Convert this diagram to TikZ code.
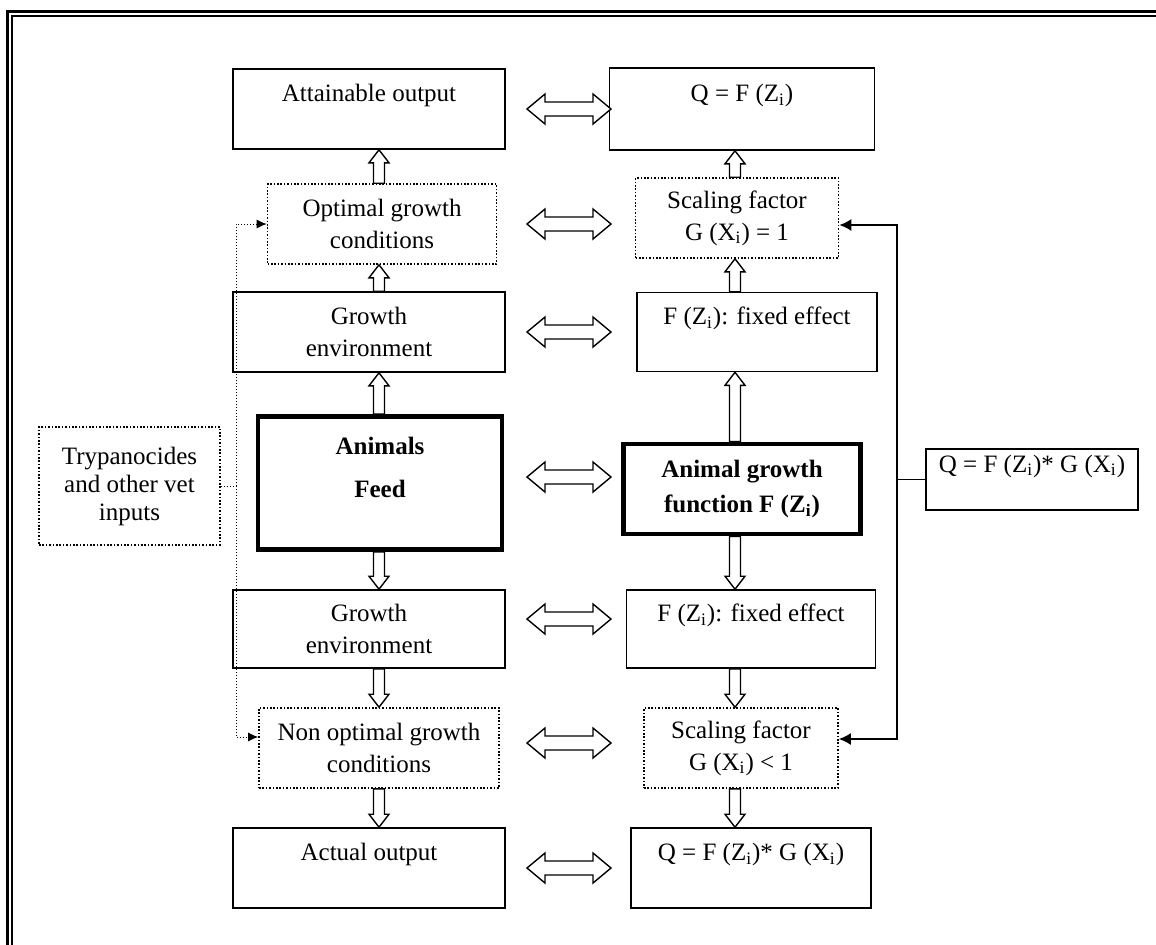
\documentclass[tikz,border=0pt]{standalone}
\usepackage{fontspec}
\setmainfont{Liberation Serif}
\usetikzlibrary{calc,arrows.meta}

\tikzset{>=latex,
  box/.style={draw,line width=0.8pt,align=center,inner sep=0pt},
  dotbox/.style={box,dash pattern=on 0.8pt off 0.9pt},
  boldbox/.style={box,line width=2.4pt},
  hollow/.style={draw,line width=0.7pt,fill=white,line join=miter},
  feed/.style={line width=0.9pt},
  vet/.style={line width=0.5pt,dash pattern=on 0.5pt off 1pt},
}

% hollow block arrow along column #1, from #2 to #3
\newcommand\varr[3]{%
  \draw[hollow] let \p1=(#1 |- #2), \p2=(#1 |- #3), \n1={(\y2-\y1)/abs(\y2-\y1)} in
    (\x1-2.75pt,\y1) -- (\x1-2.75pt,{\y2-(\n1)*6.5pt}) -- (\x1-5pt,{\y2-(\n1)*6.5pt}) -- (\x2,\y2)
    -- (\x1+5pt,{\y2-(\n1)*6.5pt}) -- (\x1+2.75pt,{\y2-(\n1)*6.5pt}) -- (\x1+2.75pt,\y1) -- cycle;}
% hollow double arrow between columns dl and dr, at the height of #1
\newcommand\dblarr[1]{%
  \draw[hollow] let \p3=(#1), \p1=(dl), \p2=(dr) in
    (\x1,\y3) -- (\x1+9pt,\y3+7.5pt) -- (\x1+9pt,\y3+3.5pt) -- (\x2-9pt,\y3+3.5pt) -- (\x2-9pt,\y3+7.5pt)
    -- (\x2,\y3) -- (\x2-9pt,\y3-7.5pt) -- (\x2-9pt,\y3-3.5pt) -- (\x1+9pt,\y3-3.5pt) -- (\x1+9pt,\y3-7.5pt) -- cycle;}

\begin{document}
\begin{tikzpicture}[x=0.5pt,y=-0.5pt,font=\fontsize{12.5}{16}\selectfont]
  \path[use as bounding box] (0,0) rectangle (1156,944);
  \clip (0,0) rectangle (1156,944);
  \draw[line width=1.5pt] (7.5,11.5) rectangle (1200,1000); % outer frame
  \draw[line width=0.8pt] (12,16) rectangle (1200,1000); % inner frame

  % columns
  \coordinate (lx) at (379,0);
  \coordinate (rx) at (735,0);
  \coordinate (dl) at (527,0);
  \coordinate (dr) at (611,0);
  \coordinate (fx) at (897,0);
  \coordinate (tx) at (236,0);

  % left column
  \node[box,minimum width=136pt,minimum height=40pt] (att) at (369,109) {Attainable output\\\mbox{}};
  \node[dotbox,minimum width=114.5pt,minimum height=40pt] (opt) at (382,224) {Optimal growth\\conditions};
  \node[box,minimum width=136pt,minimum height=40pt] (gre1) at (369,332) {Growth\\environment};
  \node[boldbox,minimum width=122pt,minimum height=66.5pt] (anf) at (380,483)
    {\textbf{Animals}\\[5.5pt]\textbf{Feed}\\\mbox{}};
  \node[box,minimum width=136pt,minimum height=39pt] (gre2) at (369,629) {Growth\\environment};
  \node[dotbox,minimum width=120pt,minimum height=40pt] (nonopt) at (379,748) {Non optimal growth\\conditions};
  \node[box,minimum width=136pt,minimum height=40pt] (act) at (369,868) {Actual output\\\mbox{}};

  % right column
  \node[box,minimum width=132.5pt,minimum height=41pt] (qtop) at (742,109) {Q = F (Z\textsubscript{i})\\\mbox{}};
  \node[dotbox,minimum width=101.5pt,minimum height=40pt] (sc1) at (737,218) {Scaling factor\\G (X\textsubscript{i}) = 1};
  \node[box,minimum width=120pt,minimum height=39.5pt] (fix1) at (757,332) {F (Z\textsubscript{i}): fixed effect\\\mbox{}};
  \node[boldbox,minimum width=118.5pt,minimum height=45pt] (agf) at (742,489)
    {\textbf{Animal growth}\\[1.5pt]\textbf{function F (Z\textsubscript{i})}};
  \node[box,minimum width=124.5pt,minimum height=39pt] (fix2) at (751,629) {F (Z\textsubscript{i}): fixed effect\\\mbox{}};
  \node[dotbox,minimum width=97pt,minimum height=40pt] (sc2) at (741,748) {Scaling factor\\G (X\textsubscript{i}) < 1};
  \node[box,minimum width=120pt,minimum height=40pt] (qfin) at (751,868) {Q = F (Z\textsubscript{i})* G (X\textsubscript{i})\\\mbox{}};

  % side boxes
  \node[box,minimum width=106pt,minimum height=30.5pt] (qside) at (1032,479.5) {Q = F (Z\textsubscript{i})* G (X\textsubscript{i})\\\mbox{}};
  \node[dotbox,minimum width=90.5pt,minimum height=59pt,font=\fontsize{12.5}{14}\selectfont] (tryp) at (129.5,486)
    {Trypanocides\\and other vet\\inputs};

  % block arrows, left and right columns
  \varr{lx}{opt.north}{att.south}
  \varr{lx}{gre1.north}{opt.south}
  \varr{lx}{anf.north}{gre1.south}
  \varr{lx}{anf.south}{gre2.north}
  \varr{lx}{gre2.south}{nonopt.north}
  \varr{lx}{nonopt.south}{act.north}
  \varr{rx}{sc1.north}{qtop.south}
  \varr{rx}{fix1.north}{sc1.south}
  \varr{rx}{agf.north}{fix1.south}
  \varr{rx}{agf.south}{fix2.north}
  \varr{rx}{fix2.south}{sc2.north}
  \varr{rx}{sc2.south}{qfin.north}

  % double arrows between the columns
  \dblarr{att}
  \dblarr{opt}
  \dblarr{gre1}
  \dblarr{[yshift=3pt]anf.center}
  \dblarr{[yshift=5pt]gre2.center}
  \dblarr{[yshift=2.5pt]nonopt.center}
  \dblarr{act}

  % Q feeds back to both scaling factors
  \draw[feed] (qside.west) -- (fx |- qside.west);
  \draw[feed,-{Latex[length=6pt,width=6pt]}] (fx |- qside.west) |- ([yshift=-3.5pt]sc1.east);
  \draw[feed,-{Latex[length=6pt,width=6pt]}] (fx |- qside.west) |- ([yshift=4.5pt]sc2.east);

  % vet inputs
  \draw[vet] (tryp.east) -- (tx |- tryp.east);
  \draw[vet,-{Latex[length=5pt,width=4.5pt]}] (tx |- tryp.east) |- (opt.west);
  \draw[vet,-{Latex[length=5pt,width=4.5pt]}] (tx |- tryp.east) |- ([yshift=5.5pt]nonopt.west);
\end{tikzpicture}
\end{document}
